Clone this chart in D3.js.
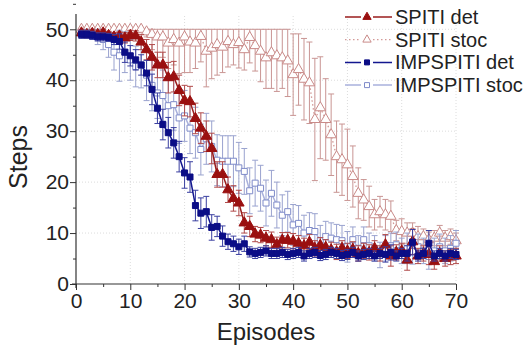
<!DOCTYPE html>
<html><head><meta charset="utf-8">
<script src="https://cdn.jsdelivr.net/npm/d3@7"></script>
<style>body{margin:0;background:#fff}svg{display:block}text{font-family:"Liberation Sans",Arial,sans-serif}</style>
</head><body>
<svg id="c" width="526" height="349"></svg>
<script>
const episodes = d3.range(1, 71);
const seriesNames = ["SPITI det", "SPITI stoc", "IMPSPITI det", "IMPSPITI stoc"];
const xTicks = [0,10,20,30,40,50,60,70];
const yTicks = [0,10,20,30,40,50];

const spitiDet = [49.3,49.0,49.2,49.0,49.3,48.8,48.5,48.7,48.3,48.8,48.7,47.5,46.0,44.5,43.0,43.0,40.5,40.7,38.0,36.0,
 35.8,32.5,30.6,29.0,26.6,21.5,21.5,18.5,16.8,15.9,12.0,11.3,9.8,9.6,9.0,8.7,7.7,8.6,8.6,8.4,
 8.0,7.5,8.2,7.0,7.6,7.2,6.7,6.3,7.0,6.5,6.8,6.0,6.5,6.2,7.0,6.0,7.7,5.5,6.2,6.5,
 4.7,8.3,5.5,6.0,5.8,4.4,6.0,5.0,5.3,5.5];
const spitiDetErr = [0.8,0.8,0.8,0.8,0.8,0.8,0.8,0.8,1,1,1,1.5,2,2.5,2.5,2.5,3,3,3,3,
 3,3,3,3,3,2.5,2.5,2.5,2.5,2.5,2,2,1.5,1.5,1.5,1.5,1.5,1.5,1.5,1.5,
 1.5,1.5,1.5,1.5,1.5,1.5,1.5,1.5,1.5,1.5,1.5,1.5,1.5,1.5,1.5,1.5,2,2,1.5,1.5,
 2,2.5,1.5,1.5,2,1.5,1.5,1.5,1.5,1.5];

const spitiStoc = [50,50,50,50,50,50,50,50,50,50,50,50,49.5,49.0,48.5,48.5,47.3,48.0,47.3,48.5,
 47.5,47.3,48.6,45.7,46.3,47.0,46.5,47.6,47.0,47.4,46.0,48.4,46.8,45.7,44.4,45.4,44.8,44.4,43.8,41.1,
 42.1,40.2,39.5,32.3,34.6,32.3,29.3,25.0,24.4,23.4,21.1,17.8,16.5,15.2,13.6,14.2,13.6,13.3,10.5,10.3,
 10.0,10.0,9.3,9.3,8.7,9.0,10.0,9.0,9.3,8.5];
const spitiStocErr = [0,0,0,0,0,0,0,0,0,0,0,0,1,3,4,4,5,5,6,7,
 6,5,5,7,6,6,5,5,4,5,4,5,5,6,6,7,7,6,7,8,
 7,8,8,12,10,8,8,7,7,7,6,5,4,4,3,3,3,3,2,2.5,
 2,2,2,1.5,1.5,1.5,1.5,1.5,1.5,1.5];

const impDet = [49.0,49.0,48.8,48.5,48.5,48.4,48.0,47.6,45.5,44.8,44.0,43.0,41.4,38.2,34.5,31.3,29.7,27.7,25.0,21.8,
 21.0,15.4,13.9,14.2,11.1,11.3,9.4,8.3,7.9,7.3,7.9,6.3,6.0,6.2,6.5,6.0,6.0,6.2,5.8,6.0,
 6.2,5.5,6.0,6.2,5.6,5.8,6.2,6.0,5.6,5.8,6.2,5.5,5.8,6.0,5.5,6.0,5.8,6.2,5.5,6.0,
 6.0,8.2,5.5,6.0,8.0,5.5,6.0,5.5,6.0,5.8];
const impDetErr = [0.8,0.8,0.8,0.8,0.8,0.8,1,1.5,2,2,2,2,2.5,3,3,3,3,3,3,3,
 3,3,3,3,2.5,2,2,1.5,1.5,1.5,1.5,1,1,1,1,1,1,1,1,1,
 1,1,1,1,1,1,1,1,1,1,1,1,1,1,1,1,1.5,1.5,1,1,
 1.5,2.5,1,1,2.5,1,1,1,1,1];

const impStoc = [49.3,49.2,49.0,48.5,48.0,47.0,45.5,44.8,45.5,44.0,42.7,43.0,41.0,39.0,37.5,37.0,35.0,35.2,32.6,33.0,
 30.6,29.7,26.4,28.5,27.0,24.3,24.1,24.1,24.1,22.8,22.1,18.3,19.8,18.8,15.9,17.8,15.5,13.5,14.2,11.6,
 11.9,10.0,10.5,10.3,8.5,9.3,9.0,8.7,8.5,7.3,8.7,7.0,8.7,7.5,7.0,5.7,7.0,7.5,7.7,6.5,
 7.0,6.4,7.3,6.5,5.4,6.5,7.3,6.5,7.0,8.0];
const impStocErr = [0.5,0.8,1,1.5,2,2.5,3.5,5,4,4,4,4.5,5,5,5,5,5,5,5,5,
 5,5,5,5,5,5,5,5,5,5,4.5,4.5,4.5,4.5,4.5,4.5,4.5,4,4,4,
 3.5,3.5,3.5,3.5,3,3,3,3,3,3,2.5,2.5,2.5,2.5,2.5,2.5,2.5,2.5,2.5,2.5,
 3,2.5,2.5,2.5,2.5,2.5,2.5,2.5,2.5,2.5];

const maxSteps = 50;

const svg = d3.select("#c");
const x = d3.scaleLinear().domain([0,70]).range([76,456]);
const y = d3.scaleLinear().domain([0,53]).range([284,14]);

// grid
const grid = svg.append("g").attr("stroke","#dcdcdc").attr("stroke-dasharray","1,2").attr("stroke-width",1);
xTicks.filter(d=>d>0).forEach(d=>grid.append("line").attr("x1",x(d)).attr("x2",x(d)).attr("y1",y(0)).attr("y2",y(53)));
yTicks.filter(d=>d>0).forEach(d=>grid.append("line").attr("x1",x(0)).attr("x2",x(70)).attr("y1",y(d)).attr("y2",y(d)));

const cfg = [
  {name:seriesNames[1], v:spitiStoc, e:spitiStocErr, line:"#d39a98", dash:"1.5,2.5", bar:"#c99593", marker:"tri", fill:"#fff", stroke:"#c98a88"},
  {name:seriesNames[3], v:impStoc, e:impStocErr, line:"#a9b1dc", dash:null, bar:"#9aa3cf", marker:"sq", fill:"#fff", stroke:"#7f8bc9"},
  {name:seriesNames[0], v:spitiDet, e:spitiDetErr, line:"#9a1c1c", dash:null, bar:"#b04a4a", marker:"tri", fill:"#9a1010", stroke:"#9a1010"},
  {name:seriesNames[2], v:impDet, e:impDetErr, line:"#13178f", dash:null, bar:"#3a3fa0", marker:"sq", fill:"#0b0d86", stroke:"#0b0d86"}
];

const triPath = d3.symbol().type(d3.symbolTriangle).size(48)();
const sqPath = d3.symbol().type(d3.symbolSquare).size(36)();

function drawSeries(s){
  const g = svg.append("g");
  const data = episodes.map((ep,i)=>({ep, v:s.v[i], e:s.e[i]}));
  const eb = g.append("g").attr("stroke",s.bar).attr("stroke-width",1).attr("fill","none");
  data.filter(d=>d.e>0).forEach(d=>{
    const top = y(Math.min(d.v+d.e, maxSteps)), bot = y(d.v-d.e), cx = x(d.ep);
    eb.append("line").attr("x1",cx).attr("x2",cx).attr("y1",top).attr("y2",bot);
    eb.append("line").attr("x1",cx-3).attr("x2",cx+3).attr("y1",top).attr("y2",top);
    eb.append("line").attr("x1",cx-3).attr("x2",cx+3).attr("y1",bot).attr("y2",bot);
  });
  g.append("path").datum(data).attr("fill","none").attr("stroke",s.line).attr("stroke-width",s.dash?1.3:1.5)
    .attr("stroke-dasharray",s.dash).attr("d",d3.line().x(d=>x(d.ep)).y(d=>y(d.v)));
  g.selectAll("path.m").data(data).join("path").attr("class","m")
    .attr("d",s.marker==="tri"?triPath:sqPath)
    .attr("transform",d=>`translate(${x(d.ep)},${y(d.v)})`)
    .attr("fill",s.fill).attr("stroke",s.stroke).attr("stroke-width",1);
}
cfg.forEach(drawSeries);

// axes
const xAxis = svg.append("g").attr("transform",`translate(0,${y(0)})`)
  .call(d3.axisBottom(x).tickValues(xTicks).tickSize(6).tickPadding(3).tickFormat(d3.format("d")));
svg.append("g").attr("transform",`translate(0,${y(0)})`)
  .call(d3.axisBottom(x).tickValues(xTicks.slice(0,-1).map(d=>d+5)).tickSize(3).tickFormat(""))
  .select(".domain").remove();
const yAxis = svg.append("g").attr("transform",`translate(${x(0)},0)`)
  .call(d3.axisLeft(y).tickValues(yTicks).tickSize(6).tickPadding(1).tickFormat(d3.format("d")));
svg.append("g").attr("transform",`translate(${x(0)},0)`)
  .call(d3.axisLeft(y).tickValues(yTicks.map(d=>d+5)).tickSize(3).tickFormat(""))
  .select(".domain").remove();
svg.selectAll(".domain").attr("stroke","#333").attr("stroke-width",1.2);
svg.selectAll(".tick line").attr("stroke","#333");
svg.selectAll(".tick text").attr("font-size",21).attr("fill","#222").attr("font-family","Liberation Sans, Arial, sans-serif");
xAxis.select(".domain").attr("d",`M${x(0)-4},0H${x(70)}`);
yAxis.select(".domain").attr("d",`M0,${y(0)+4}V${y(53)}`);

svg.append("text").attr("x",266).attr("y",340).attr("text-anchor","middle").attr("font-size",24).attr("fill","#222").text("Episodes");
svg.append("text").attr("transform","translate(27,157) rotate(-90)").attr("text-anchor","middle").attr("font-size",25).attr("fill","#222").text("Steps");

// legend
const legendOrder = [cfg[2], cfg[0], cfg[3], cfg[1]];
const lg = svg.append("g");
legendOrder.forEach((s,i)=>{
  const cy = 17 + i*22.7;
  lg.append("line").attr("x1",345).attr("x2",392).attr("y1",cy).attr("y2",cy)
    .attr("stroke",s.line).attr("stroke-width",s.dash?1.3:1.5).attr("stroke-dasharray",s.dash);
  lg.append("rect").attr("x",361).attr("y",cy-5).attr("width",12).attr("height",10).attr("fill","#fff");
  lg.append("path").attr("d",s.marker==="tri"?d3.symbol().type(d3.symbolTriangle).size(30)():d3.symbol().type(d3.symbolSquare).size(25)())
    .attr("transform",`translate(367,${cy})`)
    .attr("fill",s.fill).attr("stroke",s.stroke);
  lg.append("text").attr("x",395).attr("y",cy).attr("dy","0.35em").attr("font-size",20).attr("fill","#222").text(s.name);
});
</script>
</body></html>
